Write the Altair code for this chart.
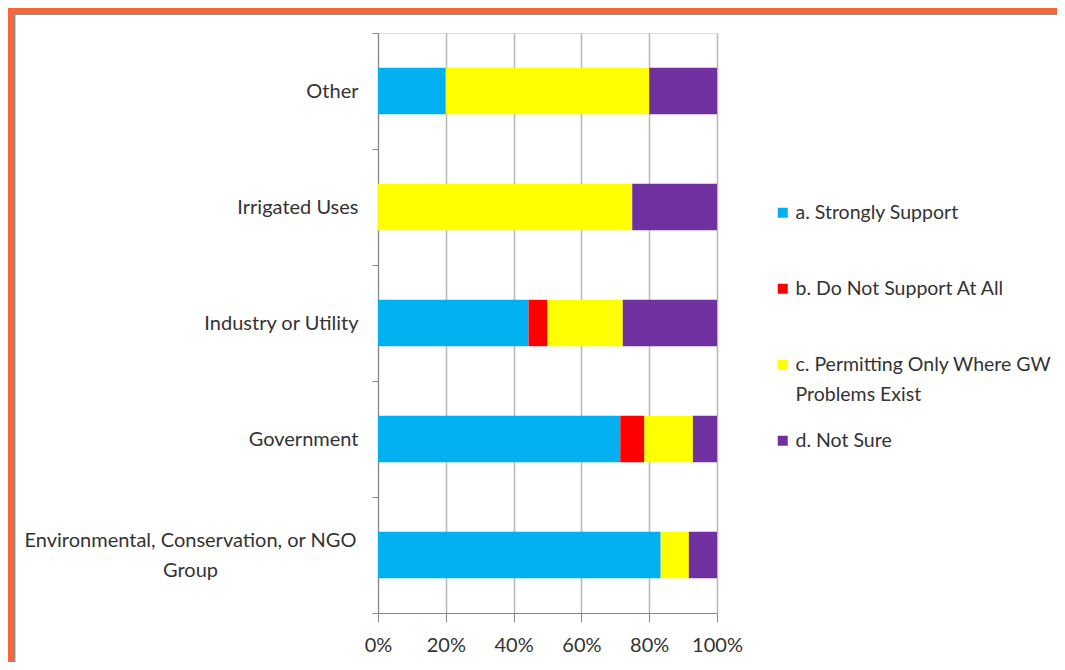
import altair as alt
import pandas as pd

categories = ["Other", "Irrigated Uses", "Industry or Utility", "Government",
              "Environmental, Conservation, or NGO Group"]
responses = ["a. Strongly Support", "b. Do Not Support At All",
             "c. Permitting Only Where GW Problems Exist", "d. Not Sure"]
colors = ["#00B0F0", "#FF0000", "#FFFF00", "#7030A0"]

strongly_support = [20.0, 0.0, 44.4, 71.4, 83.3]
do_not_support = [0.0, 0.0, 5.6, 7.1, 0.0]
permitting_only = [60.0, 75.0, 22.2, 14.3, 8.3]
not_sure = [20.0, 25.0, 27.8, 7.1, 8.3]
x_ticks = [0, 0.2, 0.4, 0.6, 0.8, 1.0]

series = [strongly_support, do_not_support, permitting_only, not_sure]
rows = []
for k, (resp, vals) in enumerate(zip(responses, series)):
    for cat, v in zip(categories, vals):
        rows.append({"category": cat, "response": resp, "value": v, "order": k})
df = pd.DataFrame(rows)

ENV = "Environmental, Conservation, or NGO Group"
is_env = "datum.value == '" + ENV + "'"
y_label_expr = (
    is_env + " ? ['Environmental, Conservation, or NGO', 'Group'] : datum.value"
)
legend_label_expr = (
    "datum.value == 'c. Permitting Only Where GW Problems Exist' ? "
    "['c. Permitting Only Where GW', 'Problems Exist'] : datum.value"
)

FONT = "Lato"
TXT = "#333333"

bars = alt.Chart(df).mark_bar(height=alt.RelativeBandSize(0.4)).encode(
    y=alt.Y("category:N", sort=categories,
            scale=alt.Scale(paddingInner=0, paddingOuter=0),
            axis=alt.Axis(title=None, tickBand="extent", grid=False,
                          labelExpr=y_label_expr, labelFont=FONT, labelFontSize=20,
                          labelColor=TXT, labelLineHeight=30, labelLimit=500,
                          labelPadding={"condition": {"test": is_env, "value": 182}, "value": 14},
                          labelAlign={"condition": {"test": is_env, "value": "center"}, "value": "right"},
                          labelOffset={"condition": {"test": is_env, "value": -15}, "value": 0},
                          tickSize=6, tickColor="#868686",
                          domainColor="#868686", domainWidth=1)),
    x=alt.X("value:Q", stack="normalize", scale=alt.Scale(domain=[0, 1]),
            axis=alt.Axis(title=None, format="%", values=x_ticks, grid=True,
                          gridColor="#b8b8b8", gridWidth=1.5,
                          labelFont=FONT, labelFontSize=20, labelColor=TXT,
                          labelPadding=13, tickSize=9, tickColor="#868686",
                          domainColor="#868686", labelFlush=False)),
    color=alt.Color("response:N",
                    scale=alt.Scale(domain=responses, range=colors),
                    legend=alt.Legend(title=None, orient="none", legendX=395, legendY=170,
                                      symbolType="square", symbolSize=100,
                                      symbolStrokeWidth=0, labelFont=FONT,
                                      labelFontSize=19.5, labelColor=TXT, labelLimit=400,
                                      labelOffset=3, rowPadding=25, padding=0,
                                      gridAlign="all",
                                      labelExpr=legend_label_expr)),
    order=alt.Order("order:Q"),
)

frame_df = pd.DataFrame({"k": [0]})
top_orange = alt.Chart(frame_df).mark_rule(color="#F7653A", strokeWidth=5).encode(
    x=alt.value(-370), x2=alt.value(687), y=alt.value(-22.5))
top_grey = alt.Chart(frame_df).mark_rule(color="#8c8c8c", strokeWidth=2).encode(
    x=alt.value(-364), x2=alt.value(687), y=alt.value(-19))
left_orange = alt.Chart(frame_df).mark_rule(color="#F7653A", strokeWidth=6).encode(
    x=alt.value(-367), y=alt.value(-25), y2=alt.value(640))
left_grey = alt.Chart(frame_df).mark_rule(color="#8c8c8c", strokeWidth=1.5).encode(
    x=alt.value(-363.3), y=alt.value(-20), y2=alt.value(640))

chart = alt.layer(bars, top_orange, top_grey, left_orange, left_grey).properties(
    width=339, height=580,
    autosize=alt.AutoSizeParams(type="none"),
    padding={"left": 370, "top": 25, "right": 340, "bottom": 49},
).configure_view(stroke=None).configure(style={"guide-label": {"lineHeight": 30}})

chart.save("out.html", embed_options={"renderer": "svg", "actions": False})
